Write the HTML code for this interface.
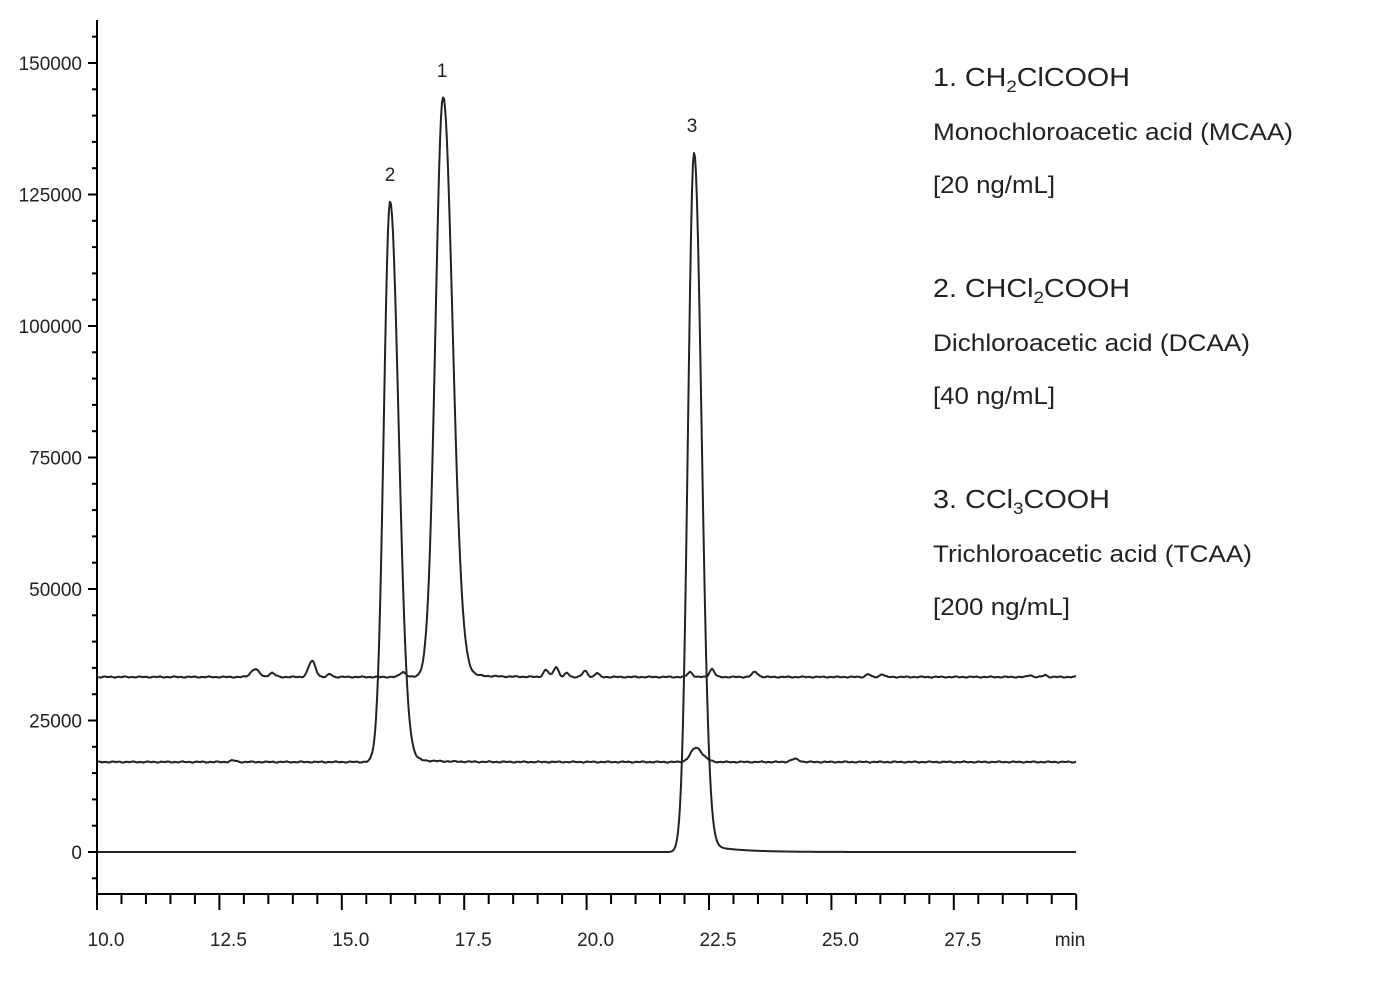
<!DOCTYPE html>
<html><head><meta charset="utf-8"><style>
html,body{margin:0;padding:0;background:#fff;}
svg{display:block;font-family:"Liberation Sans",Arial,sans-serif;}
</style></head><body>
<svg id="s" width="1393" height="994" viewBox="0 0 1393 994" xmlns="http://www.w3.org/2000/svg">
<g id="ax" stroke="#000" stroke-width="2" fill="none"></g>
<g id="tr" stroke="#222" stroke-width="2" fill="none" stroke-linejoin="round"></g>
<g id="lb" fill="#222" font-size="19"></g>
<g fill="#222" font-size="19" text-anchor="middle">
<text x="390" y="181">2</text><text x="442" y="77">1</text><text x="692" y="132">3</text>
</g>
<g fill="#222" font-size="26">
<text x="933" y="86" textLength="197" lengthAdjust="spacingAndGlyphs">1. CH<tspan font-size="17" dy="6">2</tspan><tspan dy="-6">ClCOOH</tspan></text>
<text x="933" y="140" font-size="24" textLength="360" lengthAdjust="spacingAndGlyphs">Monochloroacetic acid (MCAA)</text>
<text x="933" y="193" font-size="24" textLength="122" lengthAdjust="spacingAndGlyphs">[20 ng/mL]</text>
<text x="933" y="297" textLength="197" lengthAdjust="spacingAndGlyphs">2. CHCl<tspan font-size="17" dy="6">2</tspan><tspan dy="-6">COOH</tspan></text>
<text x="933" y="351" font-size="24" textLength="317" lengthAdjust="spacingAndGlyphs">Dichloroacetic acid (DCAA)</text>
<text x="933" y="404" font-size="24" textLength="122" lengthAdjust="spacingAndGlyphs">[40 ng/mL]</text>
<text x="933" y="508" textLength="177" lengthAdjust="spacingAndGlyphs">3. CCl<tspan font-size="17" dy="6">3</tspan><tspan dy="-6">COOH</tspan></text>
<text x="933" y="562" font-size="24" textLength="319" lengthAdjust="spacingAndGlyphs">Trichloroacetic acid (TCAA)</text>
<text x="933" y="615" font-size="24" textLength="137" lengthAdjust="spacingAndGlyphs">[200 ng/mL]</text>
</g>
</svg>
<script>
var NS="http://www.w3.org/2000/svg";
function el(p,t,a,txt){var e=document.createElementNS(NS,t);for(var k in a)e.setAttribute(k,a[k]);if(txt!=null)e.textContent=txt;document.getElementById(p).appendChild(e);return e;}
var X0=97,PX=48.96,Y0=852,PY=131.5/25000;
function tx(t){return X0+(t-10)*PX;}
function ty(v){return Y0-v*PY;}
el("ax","line",{x1:97,y1:20,x2:97,y2:895});
el("ax","line",{x1:96,y1:894,x2:1076,y2:894});
for(var v=-5000;v<=165000;v+=5000){var y=ty(v);if(y<22)continue;var maj=v%25000==0;el("ax","line",{x1:maj?88:92,y1:y,x2:97,y2:y});
 if(maj){var t=el("lb","text",{x:82,y:y+7,"text-anchor":"end"},String(v));}}
for(var t=10;t<=30.001;t+=0.5){var x=tx(t);var maj=Math.abs(t/2.5-Math.round(t/2.5))<1e-6;el("ax","line",{x1:x,y1:894,x2:x,y2:maj?910:904});
 if(maj&&t<29)el("lb","text",{x:x+9,y:946,"text-anchor":"middle"},t.toFixed(1));}
el("lb","text",{x:1070,y:946,"text-anchor":"middle"},"min");
function pk(x,c,h,sl,sr){var s=x<c?sl:sr;return h*Math.exp(-0.5*Math.pow((x-c)/s,2));}
function bumps(x,list){var r=0;for(var i=0;i<list.length;i++){var b=list[i];r+=pk(x,b[0],b[1],b[2],b[2]);}return r;}
function noise(x,a,seed){return a*(Math.sin(x*0.9+seed)*0.5+Math.sin(x*2.3+seed*2)*0.3+Math.sin(x*0.37+seed*3)*0.4);}
function path(fn){var d="";for(var x=98;x<=1076;x+=1){d+=(x==98?"M":"L")+x+" "+fn(x).toFixed(2);}return d;}
el("tr","path",{d:path(function(x){var h=pk(x,694,699,6,7.5);var tail=x>694?10*Math.exp(-(x-694)/30)*(1-Math.exp(-(x-694)/4)):0;return 852-h-tail;})});
el("tr","path",{d:path(function(x){var h=pk(x,390,560,6.2,8.5);var tail=x>390?6*Math.exp(-(x-390)/25)*(1-Math.exp(-(x-390)/4)):0;
 return 762-h-tail-bumps(x,[[695,11,5],[701,5,6],[795,3,4],[233,1.5,3]])-noise(x,0.7,1);})});
el("tr","path",{d:path(function(x){var h=pk(x,443,580,7.5,9.5);var tail=x>443?6*Math.exp(-(x-443)/25)*(1-Math.exp(-(x-443)/4)):0;
 return 677-h-tail-bumps(x,[[255,8,4],[272,4,3],[312,16,3.5],[330,3,2],[403,5,3],[546,7,2.5],[556,10,2.5],[567,4,2],[585,6,2.5],[597,4,2],[690,5,2.5],[712,8,2.5],[755,5,3],[868,3,2],[882,3,2],[1030,2,2],[1045,2,2]])-noise(x,0.7,2);})});
</script>
</body></html>
